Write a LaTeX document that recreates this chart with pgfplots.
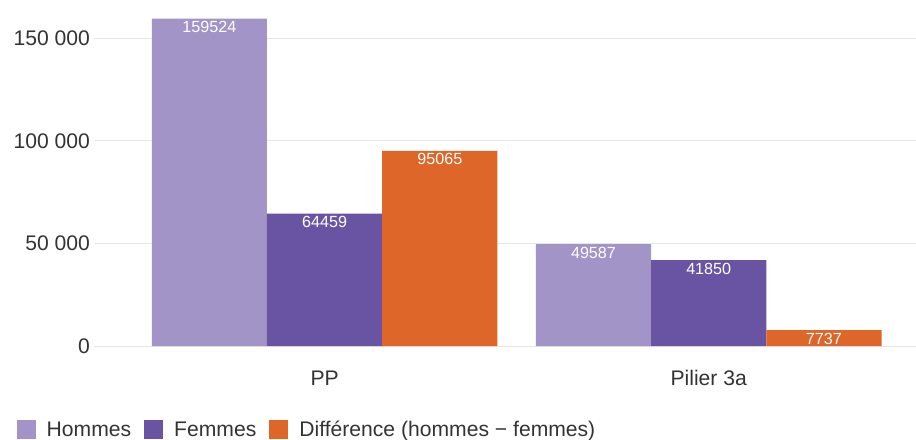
\documentclass[border=0pt]{standalone}
\usepackage{fontspec}
\setmainfont{Liberation Sans}
\usepackage{pgfplots}
\pgfplotsset{compat=1.18}
\definecolor{hommes}{HTML}{A294C7}
\definecolor{femmes}{HTML}{6954A4}
\definecolor{diff}{HTML}{DD6628}
\definecolor{txt}{HTML}{333333}
\definecolor{gridc}{HTML}{E6E6E6}
\begin{document}
\begin{tikzpicture}
\useasboundingbox (-94bp,-94bp) rectangle (822bp,346bp);
\begin{axis}[
  at={(0,0)}, anchor=south west,
  scale only axis,
  width=822bp, height=338.69bp,
  xmin=-0.6004, xmax=1.5397,
  ymin=0, ymax=165000,
  ybar=0pt, bar width=0.3,
  axis line style={draw=none},
  major tick length=0pt,
  xtick={0,1}, xticklabels={PP,Pilier 3a},
  ytick={0,50000,100000,150000},
  scaled y ticks=false,
  /pgf/number format/assume math mode=true,
  yticklabel={\pgfmathprintnumber[fixed,precision=0,1000 sep={\ }]{\tick}},
  ticklabel style={font=\fontsize{21.2}{25}\selectfont, text=txt},
  yticklabel style={xshift=-0.5bp},
  xticklabel style={yshift=-21bp},
  ymajorgrids,
  grid style={draw=gridc, line width=1bp},
  point meta=explicit symbolic,
  nodes near coords,
  every node near coord/.append style={anchor=north, inner sep=2.5bp, text=white, font=\fontsize{16.2}{19}\selectfont},
  legend columns=-1,
  legend style={at={(axis description cs:0,0)}, anchor=west, xshift=-77.3bp, yshift=-83bp,
    draw=none, fill=none, inner sep=0pt, outer sep=0pt,
    font=\fontsize{21.2}{25}\selectfont, text=txt,
    nodes={inner sep=0pt, anchor=base west},
    /tikz/every odd column/.append style={column sep=11bp},
    /tikz/every even column/.append style={column sep=13bp}},
  legend image code/.code={\fill[#1] (0bp,-2.0bp) rectangle (19bp,17bp);},
]
\addplot[fill=hommes, draw=none] coordinates {(0,159524) [159524] (1,49587) [49587]};
\addplot[fill=femmes, draw=none] coordinates {(0,64459) [64459] (1,41850) [41850]};
\addplot[fill=diff, draw=none] coordinates {(0,95065) [95065] (1,7737) [7737]};
\legend{Hommes, Femmes, Différence (hommes − femmes)}
\end{axis}
\end{tikzpicture}
\end{document}
